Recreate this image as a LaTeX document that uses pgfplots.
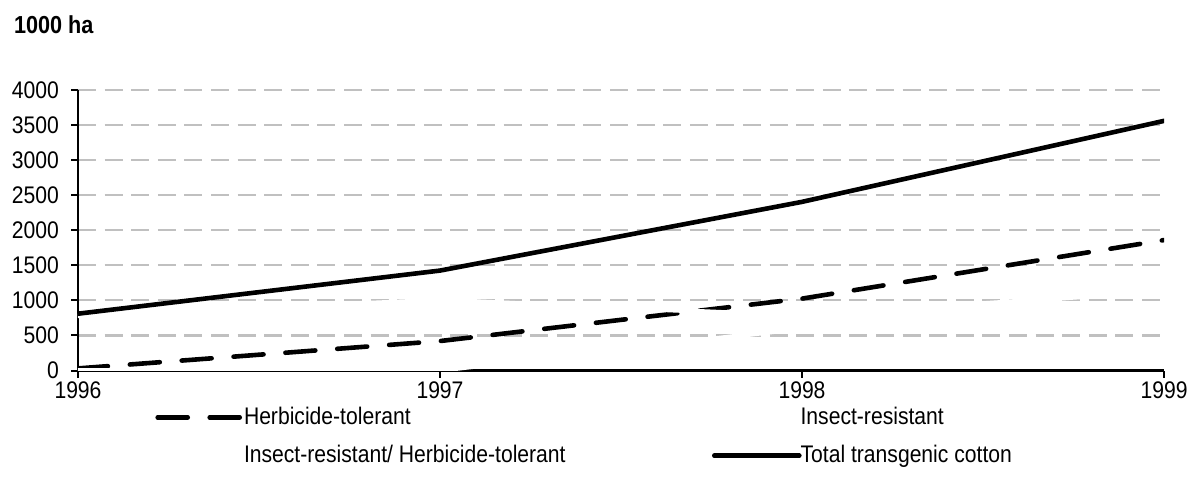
\documentclass[border=0pt]{standalone}
\usepackage{fontspec}
\setmainfont{Liberation Sans}[FakeStretch=0.88]
\usepackage{pgfplots}
\pgfplotsset{compat=1.18}
\definecolor{gridgray}{HTML}{C0C0C0}
\begin{document}
\begin{tikzpicture}[font=\fontsize{12}{14}\selectfont]
\useasboundingbox (-39pt,-59.25pt) rectangle (555pt,185.25pt);
\node[anchor=base west, font=\bfseries\fontsize{12.3}{14}\selectfont] at (-35.5pt,168.75pt) {1000 ha};
\begin{axis}[
  at={(0pt,0pt)}, anchor=south west,
  scale only axis, width=543pt, height=140.25pt,
  xmin=1996, xmax=1999, ymin=0, ymax=4000,
  xtick={1996,1997,1998,1999}, ytick={0,500,...,4000},
  axis x line=bottom, axis y line=left,
  axis line style={-, line width=1.1pt, black},
  tick align=outside, major tick length=3.5pt,
  tick style={black, line width=1pt},
  ymajorgrids,
  grid style={gridgray, line width=1.1pt, dash pattern=on 9pt off 4.3pt},
  /pgf/number format/assume math mode=true,
  /pgf/number format/1000 sep={},
  ticklabel style={font=\fontsize{12}{14}\selectfont},
  yticklabel style={xshift=-2.5pt},
  xticklabel style={inner sep=2pt},
  legend columns=2,
  legend cell align=left,
  legend style={draw=none, fill=none, inner sep=0pt,
    at={(0.0709,-0.115)}, anchor=north west,
    /tikz/every odd column/.append style={column sep=-2.5pt},
    /tikz/every even column/.append style={column sep=0pt},
    row sep=5pt, font=\fontsize{12}{14}\selectfont},
  legend image code/.code={\draw[#1] (0pt,0pt) -- (42.5pt,0pt);},
  every axis plot/.append style={line width=2.3pt, line cap=round, line join=round},
]
% herbicide-tolerant cotton
\addplot[black, dash pattern=on 15pt off 11pt] coordinates {
  (1996,30) (1997,420) (1998,1025) (1999,1860)};
% insect-resistant cotton
\addplot[white] coordinates {
  (1996,780) (1997,1005) (1998,780) (1999,1130)};
% stacked insect-resistant / herbicide-tolerant cotton
\addplot[white] coordinates {
  (1996,0) (1997,0) (1998,600) (1999,570)};
% total transgenic cotton
\addplot[black] coordinates {
  (1996,810) (1997,1425) (1998,2405) (1999,3560)};
\legend{{\makebox[232pt][l]{Herbicide-tolerant}},Insect-resistant,
  {\makebox[232pt][l]{Insect-resistant/ Herbicide-tolerant}},Total transgenic cotton}
\end{axis}
\end{tikzpicture}
\end{document}
